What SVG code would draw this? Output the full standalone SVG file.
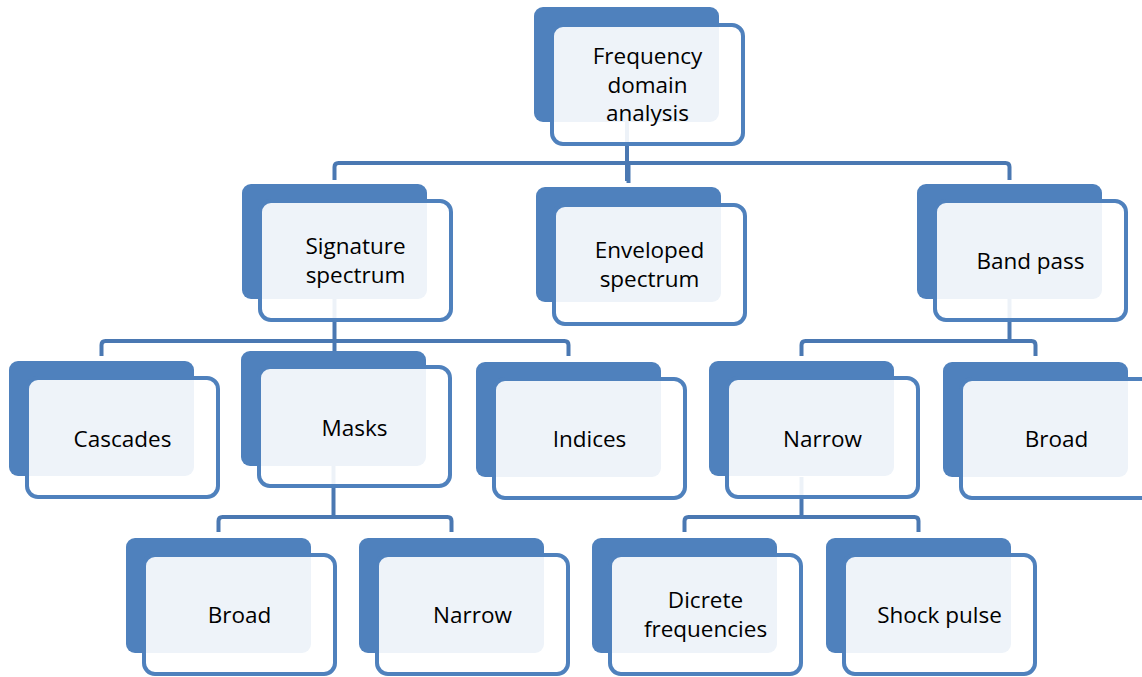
<svg xmlns="http://www.w3.org/2000/svg" width="1142" height="677" viewBox="0 0 1142 677">
  <style>
    .back { fill: #4F81BD; }
    .front { fill: #FFFFFF; fill-opacity: 0.9; stroke: #4F81BD; stroke-width: 4; }
    .link { fill: none; stroke: #4A78B2; stroke-width: 4; stroke-linejoin: round; }
    .label { font-family: "Open Sans", "Noto Sans", sans-serif; font-size: 22.5px; fill: #000; text-anchor: middle; }
  </style>
  <defs>
    <rect id="backShape" class="back" width="185" height="115" rx="9"/>
    <rect id="frontShape" class="front" width="191" height="119" rx="11"/>
  </defs>

  <rect width="1142" height="677" fill="#FFFFFF"/>

  <!-- connectors, drawn beneath the cards -->
  <g id="connectors">
    <!-- root to second level -->
    <path class="link" d="M627,122 V181"/>
    <path class="link" d="M334.5,180 V167 Q334.5,163 338.5,163 H1005.5 Q1009.5,163 1009.5,167 V180"/>
    <path class="link" d="M628.5,163 V183"/>
    <!-- Signature spectrum to its children -->
    <path class="link" d="M334.5,299 V352"/>
    <path class="link" d="M101.5,356 V345 Q101.5,341 105.5,341 H564.5 Q568.5,341 568.5,345 V356"/>
    <!-- Band pass to its children -->
    <path class="link" d="M1009.5,299 V341"/>
    <path class="link" d="M801.5,356 V345 Q801.5,341 805.5,341 H1031.5 Q1035.5,341 1035.5,345 V356"/>
    <!-- Masks to its children -->
    <path class="link" d="M333.5,466 V517"/>
    <path class="link" d="M218.5,532 V521 Q218.5,517 222.5,517 H447.5 Q451.5,517 451.5,521 V532"/>
    <!-- Narrow to its children -->
    <path class="link" d="M801.5,477 V517"/>
    <path class="link" d="M684.5,532 V521 Q684.5,517 688.5,517 H914.5 Q918.5,517 918.5,521 V532"/>
  </g>

  <g id="node-frequency-domain-analysis">
    <use href="#backShape" x="534" y="7"/>
    <use href="#frontShape" x="552" y="25"/>
    <text class="label" x="647.5"><tspan x="647.5" y="64">Frequency</tspan><tspan x="647.5" y="93">domain</tspan><tspan x="647.5" y="121">analysis</tspan></text>
  </g>

  <g id="node-signature-spectrum">
    <use href="#backShape" x="242" y="184"/>
    <use href="#frontShape" x="260" y="201"/>
    <text class="label"><tspan x="355.5" y="254">Signature</tspan><tspan x="355.5" y="283">spectrum</tspan></text>
  </g>

  <g id="node-enveloped-spectrum">
    <use href="#backShape" x="536" y="187"/>
    <use href="#frontShape" x="554" y="205"/>
    <text class="label"><tspan x="649.5" y="258">Enveloped</tspan><tspan x="649.5" y="287">spectrum</tspan></text>
  </g>

  <g id="node-band-pass">
    <use href="#backShape" x="917" y="184"/>
    <use href="#frontShape" x="935" y="201"/>
    <text class="label" x="1030.5" y="269">Band pass</text>
  </g>

  <g id="node-cascades">
    <use href="#backShape" x="9" y="361"/>
    <use href="#frontShape" x="27" y="378"/>
    <text class="label" x="122.5" y="447">Cascades</text>
  </g>

  <g id="node-masks">
    <use href="#backShape" x="241" y="351"/>
    <use href="#frontShape" x="259" y="367"/>
    <text class="label" x="354.5" y="436">Masks</text>
  </g>

  <g id="node-indices">
    <use href="#backShape" x="476" y="362"/>
    <use href="#frontShape" x="494" y="379"/>
    <text class="label" x="589.5" y="447">Indices</text>
  </g>

  <g id="node-narrow-band">
    <use href="#backShape" x="709" y="361"/>
    <use href="#frontShape" x="727" y="378"/>
    <text class="label" x="822.5" y="447">Narrow</text>
  </g>

  <g id="node-broad-band">
    <use href="#backShape" x="943" y="362"/>
    <use href="#frontShape" x="961" y="379"/>
    <text class="label" x="1056.5" y="447">Broad</text>
  </g>

  <g id="node-masks-broad">
    <use href="#backShape" x="126" y="538"/>
    <use href="#frontShape" x="144" y="555"/>
    <text class="label" x="239.5" y="623">Broad</text>
  </g>

  <g id="node-masks-narrow">
    <use href="#backShape" x="359" y="538"/>
    <use href="#frontShape" x="377" y="555"/>
    <text class="label" x="472.5" y="623">Narrow</text>
  </g>

  <g id="node-dicrete-frequencies">
    <use href="#backShape" x="592" y="538"/>
    <use href="#frontShape" x="610" y="555"/>
    <text class="label"><tspan x="705.5" y="608">Dicrete</tspan><tspan x="705.5" y="637">frequencies</tspan></text>
  </g>

  <g id="node-shock-pulse">
    <use href="#backShape" x="826" y="538"/>
    <use href="#frontShape" x="844" y="555"/>
    <text class="label" x="939.5" y="623">Shock pulse</text>
  </g>
</svg>
